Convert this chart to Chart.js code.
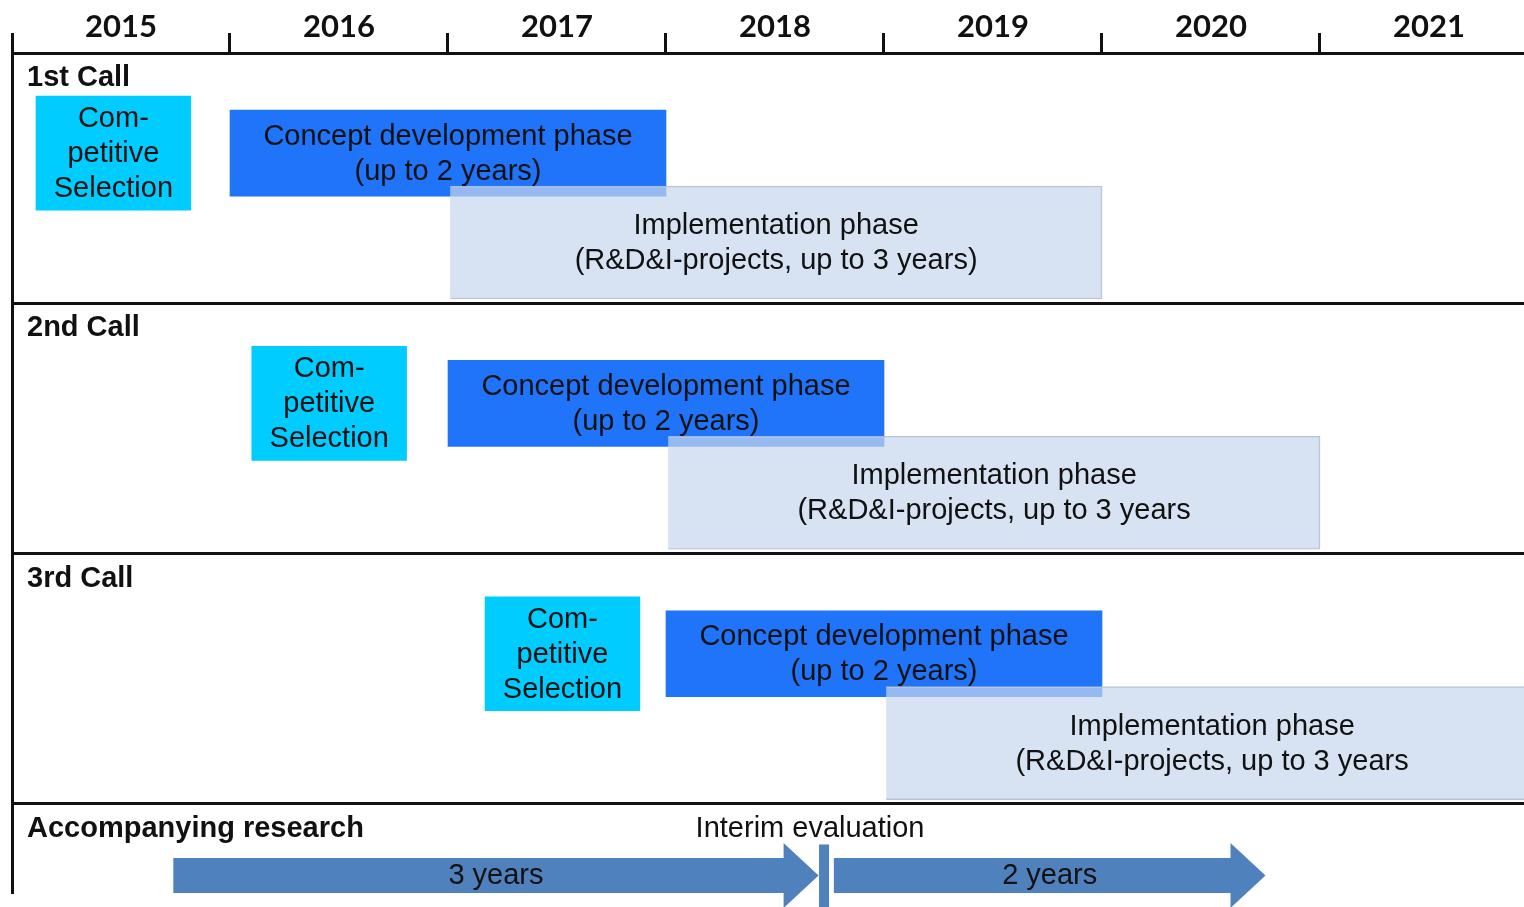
<!DOCTYPE html>
<html>
<head>
<meta charset="utf-8">
<script src="https://cdn.jsdelivr.net/npm/chart.js@4"></script>
<style>
  html, body { margin: 0; padding: 0; background: #fff; }
  #wrap { width: 1524px; height: 907px; position: relative; }
</style>
</head>
<body>
<div id="wrap"><canvas id="timeline"></canvas></div>
<script>
// years shown on the top axis
const years = ['2015', '2016', '2017', '2018', '2019', '2020', '2021'];
const calls = ['1st Call', '2nd Call', '3rd Call'];

// competitive selection per call
const selectionStart = [2015.11, 2016.10, 2017.17];
const selectionEnd   = [2015.82, 2016.81, 2017.88];
const selectionText  = ['Com-', 'petitive', 'Selection'];

// concept development phase per call
const conceptStart = [2016.0, 2017.0, 2018.0];
const conceptEnd   = [2018.0, 2019.0, 2020.0];
const conceptText  = ['Concept development phase', '(up to 2 years)'];

// implementation phase per call
const implStart = [2017.01, 2018.01, 2019.01];
const implEnd   = [2020.0, 2021.0, 2022.0];
const implText  = [
  ['Implementation phase', '(R&D&I-projects, up to 3 years)'],
  ['Implementation phase', '(R&D&I-projects, up to 3 years'],
  ['Implementation phase', '(R&D&I-projects, up to 3 years']
];

// accompanying research
const researchTitle  = 'Accompanying research';
const researchPhases = ['3 years', '2 years'];
const researchStart  = [2015.74, 2018.77];
const researchEnd    = [2018.70, 2020.75];
const interimDate    = 2018.725;
const interimText    = 'Interim evaluation';

// layout helpers (not data)
const firstYear = 2015;
const lastVisible = 2015 + (1524 - 12) / 218;
const laneSel = 0.4, laneImpl = 0.757, laneResearch = 3.286;
const textFont = '29px "Liberation Sans", Arial, sans-serif';
const boldFont = 'bold 29px "Liberation Sans", Arial, sans-serif';

function rows(starts, ends, lane) {
  return starts.map((s, i) => ({ x: [s, ends[i]], y: i + lane }));
}

const datasets = [
  { label: 'impl', data: rows(implStart, implEnd, laneImpl), texts: implText,
    backgroundColor: 'rgba(198,214,238,0.71)', borderColor: 'rgba(175,188,208,0.9)', borderWidth: 1,
    barThickness: 113, order: 0 },
  { label: 'concept', data: rows(conceptStart, conceptEnd, laneSel), texts: calls.map(() => conceptText),
    backgroundColor: '#1f74fa', borderWidth: 0, barThickness: 86, order: 1 },
  { label: 'selection', data: rows(selectionStart, selectionEnd, laneSel), texts: calls.map(() => selectionText),
    backgroundColor: '#00ccff', borderWidth: 0, barThickness: 114, order: 2 },
  { label: 'research', data: researchStart.map((s, i) => ({ x: [s, researchEnd[i]], y: laneResearch })),
    texts: researchPhases.map(p => [p]), arrow: true,
    backgroundColor: 'rgba(0,0,0,0)', borderWidth: 0, barThickness: 35, order: 3 }
];

const overlay = {
  id: 'overlay',
  afterDatasetsDraw(chart) {
    const ctx = chart.ctx;
    const xs = chart.scales.x, ys = chart.scales.y;
    ctx.save();
    // arrows for accompanying research
    chart.data.datasets.forEach((ds, di) => {
      if (!ds.arrow) return;
      chart.getDatasetMeta(di).data.forEach(el => {
        const p = el.getProps(['x', 'base', 'y', 'height'], true);
        const x0 = p.base, x1 = p.x, cy = p.y, h = p.height, head = 35, headH = 65;
        ctx.beginPath();
        ctx.moveTo(x0, cy - h / 2);
        ctx.lineTo(x1 - head, cy - h / 2);
        ctx.lineTo(x1 - head, cy - headH / 2);
        ctx.lineTo(x1, cy);
        ctx.lineTo(x1 - head, cy + headH / 2);
        ctx.lineTo(x1 - head, cy + h / 2);
        ctx.lineTo(x0, cy + h / 2);
        ctx.closePath();
        ctx.fillStyle = '#4f81bd';
        ctx.fill();
      });
    });
    // interim evaluation marker
    const mx = xs.getPixelForValue(interimDate);
    const my = ys.getPixelForValue(laneResearch);
    ctx.fillStyle = '#4f81bd';
    ctx.fillRect(mx - 5, my - 31, 10, 70);
    ctx.fillStyle = '#111';
    ctx.font = textFont;
    ctx.textAlign = 'center';
    ctx.textBaseline = 'middle';
    ctx.fillText(interimText, mx - 14, my - 46);

    // bar texts
    chart.data.datasets.forEach((ds, di) => {
      chart.getDatasetMeta(di).data.forEach((el, i) => {
        const p = el.getProps(['x', 'base', 'y'], true);
        const lines = ds.texts[i];
        const cx = (p.x + p.base) / 2;
        const lh = 35;
        lines.forEach((t, k) => {
          ctx.fillText(t, cx, p.y + (k - (lines.length - 1) / 2) * lh + 1);
        });
      });
    });

    // section titles
    ctx.font = boldFont;
    ctx.textAlign = 'left';
    calls.concat([researchTitle]).forEach((t, i) => {
      ctx.fillText(t, chart.chartArea.left + 15, ys.getPixelForValue(i) + 25);
    });
    ctx.restore();
  }
};

const yearTicks = [];
for (let y = firstYear; y <= lastVisible; y += 0.5) yearTicks.push({ value: y });

new Chart(document.querySelector('#timeline'), {
  type: 'bar',
  data: { datasets },
  options: {
    indexAxis: 'y',
    responsive: true,
    maintainAspectRatio: false,
    animation: false,
    layout: { padding: { bottom: 15 } },
    datasets: { bar: { grouped: false } },
    plugins: { legend: { display: false }, tooltip: { enabled: false } },
    scales: {
      x: {
        type: 'linear', position: 'top', min: firstYear, max: lastVisible,
        afterBuildTicks: s => { s.ticks = yearTicks.slice(); },
        afterFit: s => { s.height = 53; },
        border: { color: '#111', width: 3 },
        grid: {
          drawOnChartArea: false, tickLength: 20, tickWidth: 3,
          tickColor: c => (c.tick && c.tick.value % 1 === 0) ? '#111' : 'rgba(0,0,0,0)'
        },
        ticks: {
          autoSkip: false, maxRotation: 0, padding: -13, color: '#111',
          font: { family: 'Lato, "Open Sans", sans-serif', size: 31, weight: 'bold' },
          callback: v => (v % 1 !== 0) ? years[Math.floor(v) - firstYear] : ''
        }
      },
      y: {
        type: 'linear', position: 'left', reverse: true, offset: false,
        min: 0, max: (892 - 53) / 250.3,
        afterBuildTicks: s => { s.ticks = [0, 1, 2, 3].map(v => ({ value: v })); },
        afterFit: s => { s.width = 12; },
        border: { color: '#111', width: 3 },
        grid: { color: '#111', lineWidth: 3, drawTicks: false, offset: false },
        ticks: { display: false }
      }
    }
  },
  plugins: [overlay]
});
</script>
</body>
</html>
